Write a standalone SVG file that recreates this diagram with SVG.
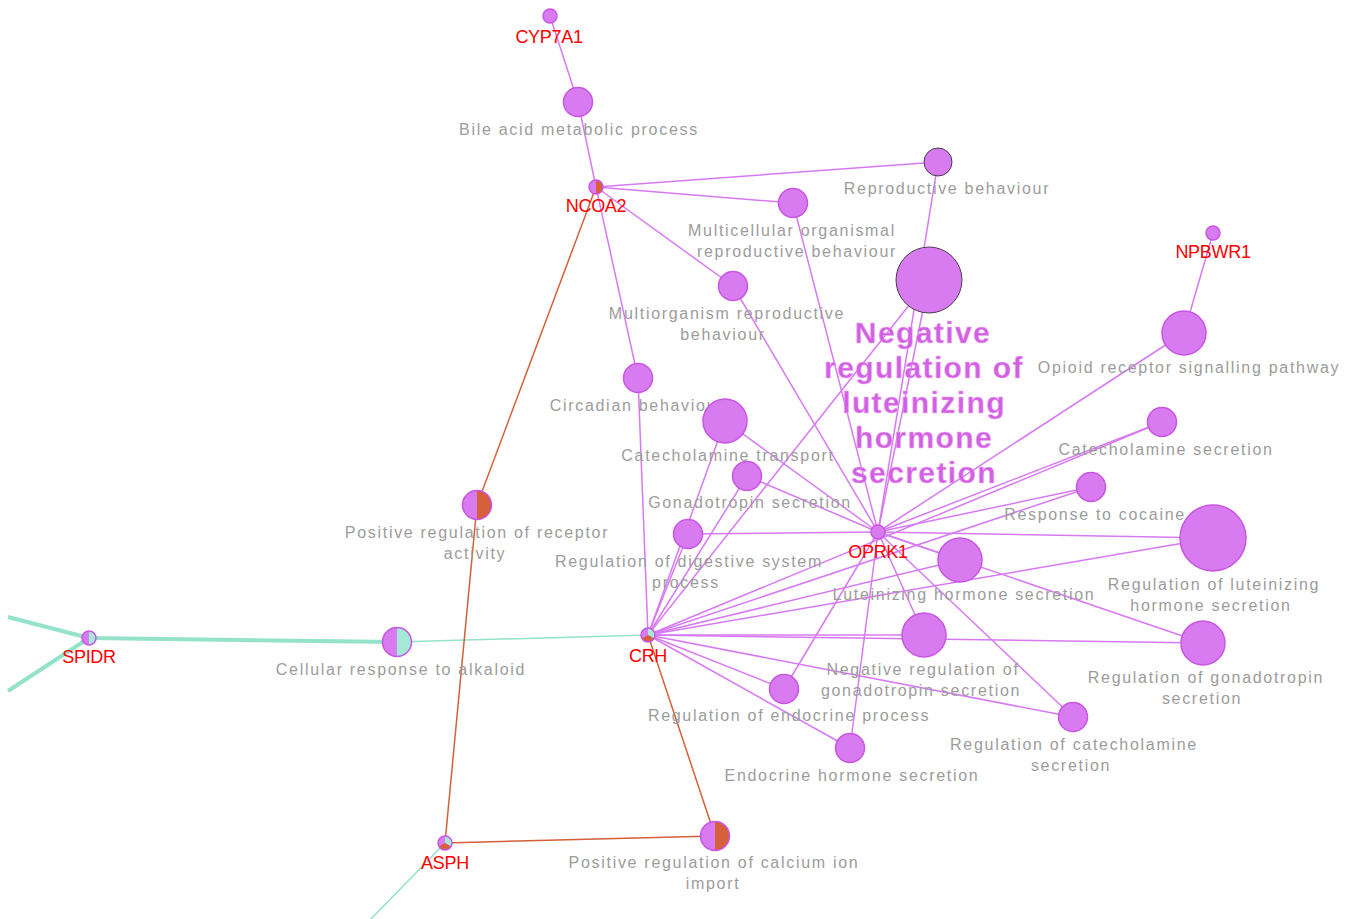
<svg xmlns="http://www.w3.org/2000/svg" width="1353" height="919" viewBox="0 0 1353 919">
<style>
.e{fill:none;stroke:#d77af2;stroke-width:1.5}
.eo{fill:none;stroke:#d3603a;stroke-width:1.5}
.et{fill:none;stroke:#93e2c9;stroke-width:1.5}
.etk{fill:none;stroke:#93e2c9;stroke-width:4}
.n{fill:#d87bf0;stroke:#c955e3;stroke-width:1.5}
.nd{fill:#d87bf0;stroke:#4a3c4c;stroke-width:1}
.o{fill:none;stroke:#c955e3;stroke-width:1.5}
.sp{fill:#d87bf0}
.st{fill:#a3e9d6}
.so{fill:#d5603a}
.t{font-family:"Liberation Sans",Arial,sans-serif;font-size:16px;fill:#9c9c9c;letter-spacing:1.7px;text-anchor:middle}
.g{font-family:"Liberation Sans",Arial,sans-serif;font-size:18px;fill:#ff0000;letter-spacing:-0.3px;text-anchor:middle}
.big{font-family:"Liberation Sans",Arial,sans-serif;font-weight:bold;font-size:30px;fill:#d35fe4;letter-spacing:1.4px;text-anchor:middle;stroke:#ecb0f3;stroke-width:0.5}
</style>
<defs>
<path id="halfR" d="M0,-7 A7,7 0 0 1 0,7 Z"/>
<path id="halfRL" d="M0,-14.5 A14.5,14.5 0 0 1 0,14.5 Z"/>
<path id="sliceT" d="M0,0 L0,-7 A7,7 0 0 1 6.06,3.5 Z"/>
<path id="sliceO" d="M0,0 L6.06,3.5 A7,7 0 0 1 -6.06,3.5 Z"/>
</defs>
<g id="connectors">
<line class="etk" x1="89" y1="638" x2="8" y2="617"/>
<line class="etk" x1="89" y1="638" x2="8" y2="691"/>
<line class="etk" x1="89" y1="638" x2="397" y2="642"/>
<line class="et" x1="397" y1="642" x2="648" y2="635"/>
<line class="et" x1="445" y1="843" x2="369" y2="921"/>
<line class="eo" x1="596" y1="187" x2="477" y2="505"/>
<line class="eo" x1="477" y1="505" x2="445" y2="843"/>
<line class="eo" x1="445" y1="843" x2="715" y2="836"/>
<line class="eo" x1="648" y1="635" x2="715" y2="836"/>
<line class="e" x1="550" y1="16" x2="578" y2="102"/>
<line class="e" x1="578" y1="102" x2="596" y2="187"/>
<line class="e" x1="596" y1="187" x2="938" y2="162"/>
<line class="e" x1="596" y1="187" x2="793" y2="203"/>
<line class="e" x1="596" y1="187" x2="733" y2="286"/>
<line class="e" x1="596" y1="187" x2="638" y2="378"/>
<line class="e" x1="638" y1="378" x2="648" y2="635"/>
<line class="e" x1="938" y1="162" x2="878" y2="532"/>
<line class="e" x1="793" y1="203" x2="878" y2="532"/>
<line class="e" x1="733" y1="286" x2="878" y2="532"/>
<line class="e" x1="929" y1="280" x2="878" y2="532"/>
<line class="e" x1="929" y1="280" x2="648" y2="635"/>
<line class="e" x1="1213" y1="233" x2="1184" y2="333"/>
<line class="e" x1="1184" y1="333" x2="878" y2="532"/>
<line class="e" x1="725" y1="421" x2="878" y2="532"/>
<line class="e" x1="725" y1="421" x2="648" y2="635"/>
<line class="e" x1="747" y1="476" x2="878" y2="532"/>
<line class="e" x1="747" y1="476" x2="648" y2="635"/>
<line class="e" x1="688" y1="534" x2="878" y2="532"/>
<line class="e" x1="688" y1="534" x2="648" y2="635"/>
<line class="e" x1="1162" y1="422" x2="878" y2="532"/>
<line class="e" x1="1162" y1="422" x2="648" y2="635"/>
<line class="e" x1="1091" y1="487" x2="878" y2="532"/>
<line class="e" x1="1091" y1="487" x2="648" y2="635"/>
<line class="e" x1="1213" y1="538" x2="878" y2="532"/>
<line class="e" x1="1213" y1="538" x2="648" y2="635"/>
<line class="e" x1="960" y1="560" x2="878" y2="532"/>
<line class="e" x1="960" y1="560" x2="648" y2="635"/>
<line class="e" x1="924" y1="635" x2="878" y2="532"/>
<line class="e" x1="924" y1="635" x2="648" y2="635"/>
<line class="e" x1="1203" y1="643" x2="878" y2="532"/>
<line class="e" x1="1203" y1="643" x2="648" y2="635"/>
<line class="e" x1="784" y1="689" x2="878" y2="532"/>
<line class="e" x1="784" y1="689" x2="648" y2="635"/>
<line class="e" x1="850" y1="748" x2="878" y2="532"/>
<line class="e" x1="850" y1="748" x2="648" y2="635"/>
<line class="e" x1="1073" y1="717" x2="878" y2="532"/>
<line class="e" x1="1073" y1="717" x2="648" y2="635"/>
</g>
<g id="bile-acid"><circle class="n" cx="578" cy="102" r="14.5"/><text class="t" x="579" y="135">Bile acid metabolic process</text></g>
<g id="reproductive-behaviour"><circle class="nd" cx="938" cy="162" r="14"/><text class="t" x="947" y="194">Reproductive behaviour</text></g>
<g id="multicellular"><circle class="n" cx="793" cy="203" r="14.5"/><text class="t" x="792" y="236">Multicellular organismal</text><text class="t" x="797" y="257">reproductive behaviour</text></g>
<g id="multiorganism"><circle class="n" cx="733" cy="286" r="14.5"/><text class="t" x="727" y="319">Multiorganism reproductive</text><text class="t" x="723" y="340">behaviour</text></g>
<g id="opioid"><circle class="n" cx="1184" cy="333" r="22"/><text class="t" x="1189" y="373">Opioid receptor signalling pathway</text></g>
<g id="circadian"><circle class="n" cx="638" cy="378" r="14.5"/><text class="t" x="637" y="411">Circadian behaviour</text></g>
<g id="catecholamine-transport"><circle class="n" cx="725" cy="421" r="22"/><text class="t" x="728" y="461">Catecholamine transport</text></g>
<g id="catecholamine-secretion"><circle class="n" cx="1162" cy="422" r="14.5"/><text class="t" x="1166" y="455">Catecholamine secretion</text></g>
<g id="gonadotropin-secretion"><circle class="n" cx="747" cy="476" r="14.5"/><text class="t" x="750" y="508">Gonadotropin secretion</text></g>
<g id="cocaine"><circle class="n" cx="1091" cy="487" r="14.5"/><text class="t" x="1095" y="520">Response to cocaine</text></g>
<g id="receptor-activity"><circle class="sp" cx="477" cy="505" r="14.5"/><use href="#halfRL" x="477" y="505" class="so"/><circle class="o" cx="477" cy="505" r="14.5"/><text class="t" x="477" y="538">Positive regulation of receptor</text><text class="t" x="475" y="559">activity</text></g>
<g id="digestive"><circle class="n" cx="688" cy="534" r="14.5"/><text class="t" x="689" y="567">Regulation of digestive system</text><text class="t" x="686" y="588">process</text></g>
<g id="reg-lh"><circle class="n" cx="1213" cy="538" r="33"/><text class="t" x="1214" y="590">Regulation of luteinizing</text><text class="t" x="1211" y="611">hormone secretion</text></g>
<g id="lh-secretion"><circle class="n" cx="960" cy="560" r="22"/><text class="t" x="964" y="600">Luteinizing hormone secretion</text></g>
<g id="alkaloid"><circle class="sp" cx="397" cy="642" r="14.5"/><use href="#halfRL" x="397" y="642" class="st"/><circle class="o" cx="397" cy="642" r="14.5"/><text class="t" x="401" y="675">Cellular response to alkaloid</text></g>
<g id="neg-reg-gonadotropin"><circle class="n" cx="924" cy="635" r="22"/><text class="t" x="923" y="675">Negative regulation of</text><text class="t" x="921" y="696">gonadotropin secretion</text></g>
<g id="reg-gonadotropin"><circle class="n" cx="1203" cy="643" r="22"/><text class="t" x="1206" y="683">Regulation of gonadotropin</text><text class="t" x="1202" y="704">secretion</text></g>
<g id="endocrine-process"><circle class="n" cx="784" cy="689" r="14.5"/><text class="t" x="789" y="721">Regulation of endocrine process</text></g>
<g id="reg-catecholamine-secretion"><circle class="n" cx="1073" cy="717" r="14.5"/><text class="t" x="1074" y="750">Regulation of catecholamine</text><text class="t" x="1071" y="771">secretion</text></g>
<g id="endocrine-hormone"><circle class="n" cx="850" cy="748" r="14.5"/><text class="t" x="852" y="781">Endocrine hormone secretion</text></g>
<g id="calcium-import"><circle class="sp" cx="715" cy="836" r="14.5"/><use href="#halfRL" x="715" y="836" class="so"/><circle class="o" cx="715" cy="836" r="14.5"/><text class="t" x="714" y="868">Positive regulation of calcium ion</text><text class="t" x="713" y="889">import</text></g>
<g id="neg-reg-lh"><circle class="nd" cx="929" cy="280" r="33"/><text class="big" x="923" y="343">Negative</text><text class="big" x="924" y="378">regulation of</text><text class="big" x="924" y="413">luteinizing</text><text class="big" x="924" y="448">hormone</text><text class="big" x="924" y="483">secretion</text></g>
<g id="CYP7A1"><circle class="n" cx="550" cy="16" r="7"/><text class="g" x="549" y="43">CYP7A1</text></g>
<g id="NCOA2"><circle class="sp" cx="596" cy="187" r="7"/><use href="#halfR" x="596" y="187" class="so"/><circle class="o" cx="596" cy="187" r="7"/><text class="g" x="596" y="212">NCOA2</text></g>
<g id="NPBWR1"><circle class="n" cx="1213" cy="233" r="7"/><text class="g" x="1213" y="258">NPBWR1</text></g>
<g id="OPRK1"><circle class="n" cx="878" cy="532" r="7"/><text class="g" x="878" y="558">OPRK1</text></g>
<g id="CRH"><circle class="sp" cx="648" cy="635" r="7"/><use href="#sliceT" x="648" y="635" class="st"/><use href="#sliceO" x="648" y="635" class="so"/><circle class="o" cx="648" cy="635" r="7"/><text class="g" x="648" y="662">CRH</text></g>
<g id="SPIDR"><circle class="sp" cx="89" cy="638" r="7"/><use href="#halfR" x="89" y="638" class="st"/><circle class="o" cx="89" cy="638" r="7"/><text class="g" x="89" y="663">SPIDR</text></g>
<g id="ASPH"><circle class="sp" cx="445" cy="843" r="7"/><use href="#sliceT" x="445" y="843" class="st"/><use href="#sliceO" x="445" y="843" class="so"/><circle class="o" cx="445" cy="843" r="7"/><text class="g" x="445" y="869">ASPH</text></g>
</svg>
